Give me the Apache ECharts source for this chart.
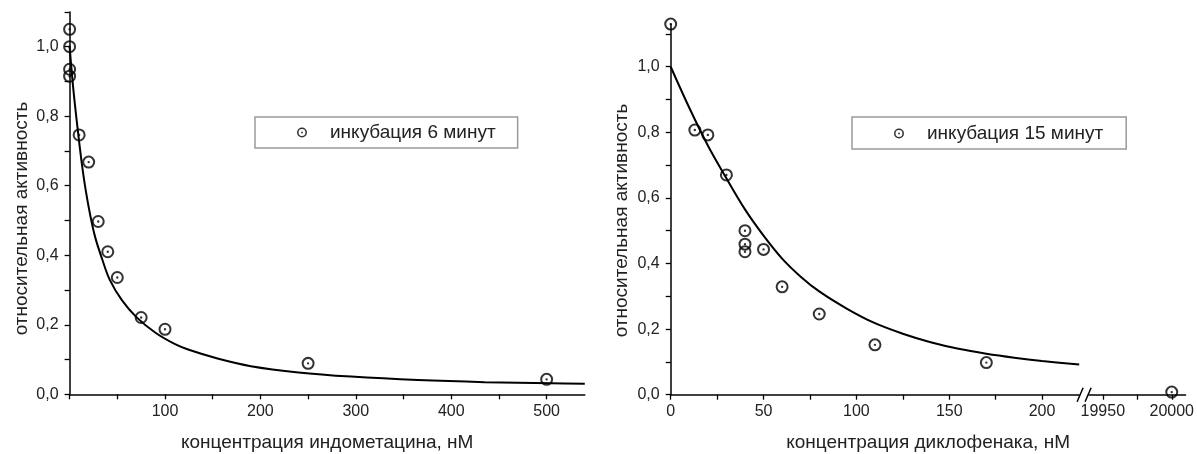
<!DOCTYPE html>
<html><head><meta charset="utf-8">
<script src="https://cdn.jsdelivr.net/npm/echarts@6/dist/echarts.min.js"></script>
<style>html,body{margin:0;padding:0;background:#fff}#c{width:1197px;height:454px}</style>
</head><body><div id="c"></div>
<script>
// ---- data (left: indomethacin, 6 min) ----
const leftName = 'инкубация 6 минут';
const leftX = [0, 0, 0, 0, 10, 20, 30, 40, 50, 75, 100, 250, 500];
const leftY = [1.05, 1.0, 0.935, 0.915, 0.746, 0.668, 0.497, 0.41, 0.336, 0.221, 0.187, 0.089, 0.043];
const leftCurveX = [0, 4, 9, 13, 17, 22, 27, 34, 42, 55, 70, 90, 110, 125, 155, 190, 240, 295, 365, 435, 505, 540];
const leftCurveY = [1.0, 0.875, 0.75, 0.66, 0.585, 0.51, 0.45, 0.39, 0.33, 0.27, 0.222, 0.177, 0.145, 0.128, 0.103, 0.081, 0.063, 0.051, 0.041, 0.035, 0.032, 0.030];
const leftXTicks = [0, 50, 100, 150, 200, 250, 300, 350, 400, 450, 500];
const leftXLabels = [100, 200, 300, 400, 500];

// ---- data (right: diclofenac, 15 min) ----
const rightName = 'инкубация 15 минут';
const rightX = [0, 13, 20, 30, 40, 40, 40, 50, 60, 80, 110, 170];
const rightY = [1.13, 0.807, 0.792, 0.670, 0.500, 0.459, 0.436, 0.443, 0.329, 0.246, 0.152, 0.098];
const rightFarX = [20000];
const rightFarY = [0.008];
const rightCurveX = [0, 10, 20, 30, 40, 50, 60, 70, 80, 95, 110, 125, 140, 155, 170, 185, 200, 220];
const rightCurveY = [1.0, 0.875, 0.76, 0.66, 0.565, 0.485, 0.415, 0.36, 0.315, 0.262, 0.218, 0.186, 0.160, 0.140, 0.125, 0.113, 0.103, 0.092];
const rightXTicks = [0, 25, 50, 75, 100, 125, 150, 175, 200];
const rightXLabels = [0, 50, 100, 150, 200];
const rightFarTicks = [19950, 19975, 20000];
const rightFarLabels = [19950, 20000];

const yTicks = [0, 0.1, 0.2, 0.3, 0.4, 0.5, 0.6, 0.7, 0.8, 0.9, 1.0, 1.1];
const yLabels = [0, 0.2, 0.4, 0.6, 0.8, 1.0];

const xTitleLeft = 'концентрация индометацина, нМ';
const xTitleRight = 'концентрация диклофенака, нМ';
const yTitle = 'относительная активность';

// ---- helpers ----
const zip = (a, b) => a.map((v, i) => [v, b[i]]);
const FONT = '"Liberation Sans", Arial, sans-serif';
const TXT = '#222';
const ring = 'path://M0,-10A10,10,0,1,1,0,10A10,10,0,1,1,0,-10ZM0,-6.9A6.9,6.9,0,1,0,0,6.9A6.9,6.9,0,1,0,0,-6.9ZM0,-1.8A1.8,1.8,0,1,1,0,1.8A1.8,1.8,0,1,1,0,-1.8Z';
const axLine = {show: true, onZero: false, lineStyle: {color: '#000', width: 1.5}};
const tick = vals => ({show: true, inside: false, length: 5, customValues: vals, lineStyle: {color: '#000', width: 1.3}});
const yFmt = v => v.toFixed(1).replace('.', ',');
const xFmt = v => String(v);

const chart = echarts.init(document.getElementById('c'), null, {renderer: 'canvas'});

const scatterBase = {
  type: 'scatter', symbol: ring, symbolSize: 13, clip: false,
  itemStyle: {color: '#000'}, emphasis: {disabled: true}
};
const lineBase = {
  type: 'line', showSymbol: false, smooth: 0.35, clip: false,
  lineStyle: {color: '#000', width: 2}, silent: true
};
const xLab = vals => ({customValues: vals, formatter: xFmt, margin: 9, fontSize: 16, color: TXT, fontFamily: FONT});
const yLab = {customValues: yLabels, formatter: yFmt, margin: 11, fontSize: 16, color: TXT, fontFamily: FONT};

const option = {
  animation: false,
  textStyle: {fontFamily: FONT},
  grid: [
    {left: 69.6, top: 11.9, width: 515.2, height: 382.4},
    {left: 670.7, top: 24.1, width: 408.5, height: 370.6},
    {left: 1089, top: 24.1, width: 102.2, height: 370.6}
  ],
  xAxis: [
    {gridIndex: 0, type: 'value', min: 0, max: 540, axisLine: axLine, axisTick: tick(leftXTicks), axisLabel: xLab(leftXLabels), splitLine: {show: false}},
    {gridIndex: 1, type: 'value', min: 0, max: 220, axisLine: axLine, axisTick: tick(rightXTicks), axisLabel: xLab(rightXLabels), splitLine: {show: false}},
    {gridIndex: 2, type: 'value', min: 19940, max: 20010, axisLine: axLine, axisTick: tick(rightFarTicks), axisLabel: xLab(rightFarLabels), splitLine: {show: false}}
  ],
  yAxis: [
    {gridIndex: 0, type: 'value', min: 0, max: 1.1, axisLine: axLine, axisTick: tick(yTicks), axisLabel: yLab, splitLine: {show: false}},
    {gridIndex: 1, type: 'value', min: 0, max: 1.13, axisLine: axLine, axisTick: tick(yTicks), axisLabel: yLab, splitLine: {show: false}},
    {gridIndex: 2, type: 'value', min: 0, max: 1.13, show: false}
  ],
  legend: [
    {left: 255, top: 117, orient: 'horizontal', selectedMode: false,
     data: [{name: leftName, icon: ring}], itemWidth: 46, itemHeight: 10, symbolKeepAspect: true,
     padding: [6, 22, 6, 42], borderColor: '#9a9a9a', borderWidth: 1.5,
     textStyle: {fontSize: 19, color: TXT, fontFamily: FONT, lineHeight: 19}},
    {left: 852, top: 117, orient: 'horizontal', selectedMode: false,
     data: [{name: rightName, icon: ring}], itemWidth: 46, itemHeight: 10, symbolKeepAspect: true,
     padding: [7, 23, 6, 42], borderColor: '#9a9a9a', borderWidth: 1.5,
     textStyle: {fontSize: 19, color: TXT, fontFamily: FONT, lineHeight: 19}}
  ],
  series: [
    Object.assign({}, lineBase, {name: 'fit6', xAxisIndex: 0, yAxisIndex: 0, data: zip(leftCurveX, leftCurveY)}),
    Object.assign({}, scatterBase, {name: leftName, xAxisIndex: 0, yAxisIndex: 0, data: zip(leftX, leftY)}),
    Object.assign({}, lineBase, {name: 'fit15', xAxisIndex: 1, yAxisIndex: 1, data: zip(rightCurveX, rightCurveY)}),
    Object.assign({}, scatterBase, {name: rightName, xAxisIndex: 1, yAxisIndex: 1, data: zip(rightX, rightY)}),
    Object.assign({}, scatterBase, {name: rightName, xAxisIndex: 2, yAxisIndex: 2, data: zip(rightFarX, rightFarY)})
  ]
};
chart.setOption(option);

// axis titles and break marks, placed from the axes
const xEndA = chart.convertToPixel({xAxisIndex: 1}, 220);
const xStartB = chart.convertToPixel({xAxisIndex: 2}, 19940);
const y0R = chart.convertToPixel({yAxisIndex: 1}, 0);
const xL0 = chart.convertToPixel({xAxisIndex: 0}, 0);
const xL1 = chart.convertToPixel({xAxisIndex: 0}, 540);
const xR0 = chart.convertToPixel({xAxisIndex: 1}, 0);
const xR1 = chart.convertToPixel({xAxisIndex: 2}, 20010);
const titleStyle = {fill: TXT, fontSize: 19, fontFamily: FONT, align: 'center', verticalAlign: 'middle'};
const mid = (xEndA + xStartB) / 2;
chart.setOption({
  graphic: [
    {type: 'text', x: (xL0 + xL1) / 2, y: 443, style: Object.assign({text: xTitleLeft}, titleStyle)},
    {type: 'text', x: (xR0 + xR1) / 2, y: 443, style: Object.assign({text: xTitleRight}, titleStyle)},
    {type: 'text', x: 21.7, y: 218.5, rotation: Math.PI / 2, style: Object.assign({text: yTitle}, titleStyle)},
    {type: 'text', x: 621.7, y: 220.5, rotation: Math.PI / 2, style: Object.assign({text: yTitle}, titleStyle)},
    {type: 'line', shape: {x1: mid - 7, y1: y0R + 7, x2: mid - 1, y2: y0R - 7}, style: {stroke: '#000', lineWidth: 1.5}},
    {type: 'line', shape: {x1: mid + 1, y1: y0R + 7, x2: mid + 7, y2: y0R - 7}, style: {stroke: '#000', lineWidth: 1.5}}
  ]
});
</script>
</body></html>
